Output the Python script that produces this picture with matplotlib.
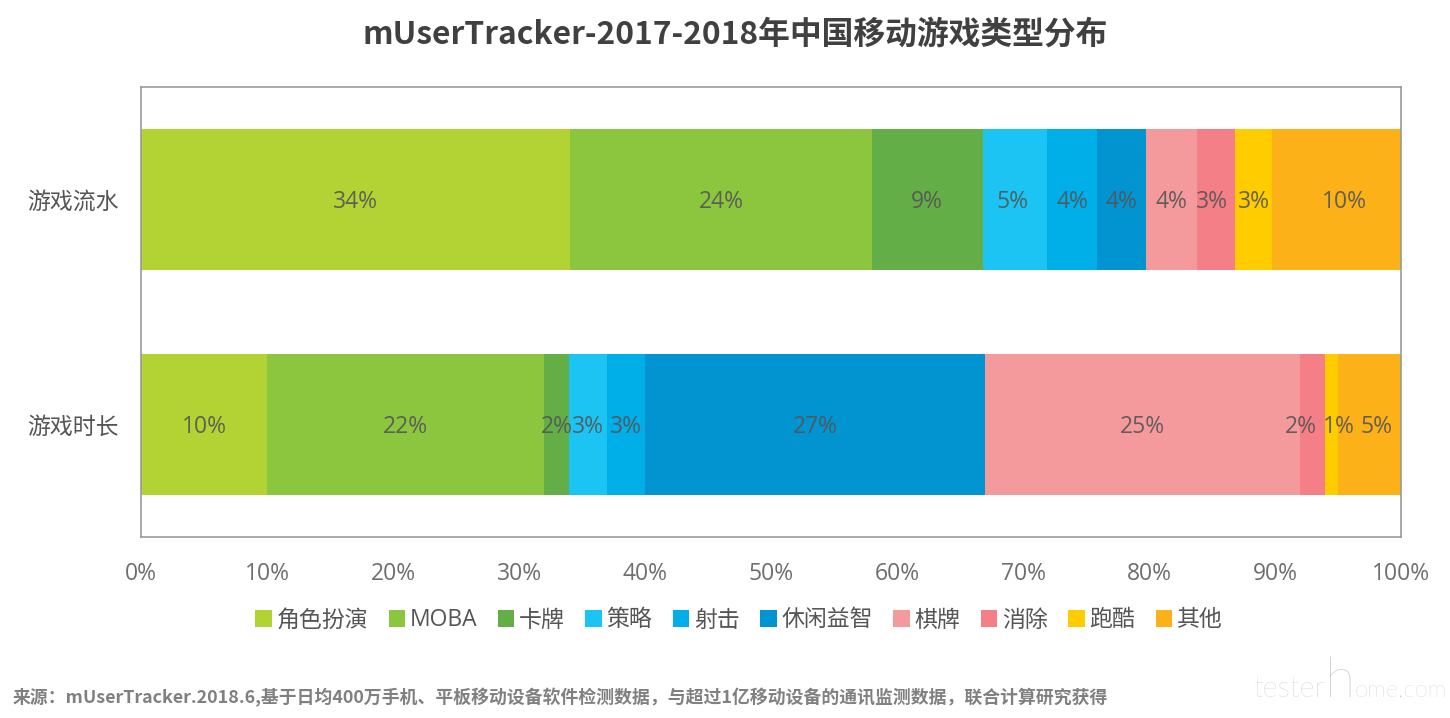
import matplotlib
matplotlib.use("Agg")
import matplotlib.pyplot as plt

plt.rcParams['font.family'] = ['Open Sans', 'Noto Sans CJK SC', 'DejaVu Sans']

# Data
categories = ['游戏流水', '游戏时长']
genres = ['角色扮演', 'MOBA', '卡牌', '策略', '射击', '休闲益智', '棋牌', '消除', '跑酷', '其他']
revenue = [34.05, 23.95, 8.8, 5.1, 4.0, 3.9, 4.0, 3.0, 3.0, 10.2]
playtime = [10.0, 22.0, 2.0, 3.0, 3.0, 27.0, 25.0, 2.0, 1.0, 5.0]
colors = ['#b3d334', '#8cc63f', '#63ae47', '#1cc4f4', '#00aee8', '#0194d0',
          '#f59a9c', '#f57f86', '#ffcc00', '#fbb117']
xticks = list(range(0, 101, 10))

# Labels the original chart moved sideways, (row, genre): pixels
label_nudge = {(1, 7): -12, (1, 8): 7, (1, 9): 7, (0, 9): 8, (0, 7): -4, (0, 3): -2}

fig = plt.figure(figsize=(14.5, 7.18), dpi=100)
ax = fig.add_axes([141 / 1450, 1 - 537 / 718, 1260 / 1450, 450 / 718])

# Stacked bars
left = [0, 0]
for i, genre in enumerate(genres):
    vals = [revenue[i], playtime[i]]
    bars = ax.barh(categories, vals, left=left, height=0.627, color=colors[i], label=genre)
    texts = ax.bar_label(bars, labels=[f'{round(v)}%' for v in vals], label_type='center',
                         fontsize=16.5, color='#555555', alpha=0.9)
    for row, t in enumerate(texts):
        dx = label_nudge.get((row, i), 0) * 0.72
        t.xyann = (dx, t.xyann[1] - 1.5)
    left = [left[0] + vals[0], left[1] + vals[1]]

ax.set_xlim(0, 100)
ax.set_ylim(1.5, -0.5)
ax.set_xticks(xticks)
ax.set_xticklabels([f'{t}%' for t in xticks], fontsize=16.5, color='#6e6e6e')
ax.tick_params(axis='x', length=0, pad=18)
ax.tick_params(axis='y', length=0, pad=16, labelsize=16.5, labelcolor='#555555')
for spine in ax.spines.values():
    spine.set_color('#999999')
    spine.set_linewidth(1.2)

# Title
fig.text(735 / 1450, 1 - 35 / 718, 'mUserTracker-2017-2018年中国移动游戏类型分布',
         ha='center', va='center', fontsize=22.9, fontweight='bold', color='#404040',
         family=['Noto Sans CJK SC', 'DejaVu Sans'])

# Legend
fig.legend(loc='center', bbox_to_anchor=(739 / 1450, 1 - 620.5 / 718), ncol=10, frameon=False,
           fontsize=16.5, labelcolor='#555555', handlelength=0.72, handleheight=0.72,
           handletextpad=0.2, columnspacing=0.9, borderpad=0)

# Source note
fig.text(13 / 1450, 1 - 698 / 718,
         '来源：mUserTracker.2018.6,基于日均400万手机、平板移动设备软件检测数据，与超过1亿移动设备的通讯监测数据，联合计算研究获得',
         ha='left', va='center', fontsize=12.85, fontweight='bold', color='#808080',
         family=['Noto Sans CJK SC', 'DejaVu Sans'])

# Watermark, the h is much taller than the rest in the original
wm = dict(color='#bdbdbd', family='Lato', fontweight='light', va='baseline', ha='left')
fig.text(1253 / 1450, 1 - 697 / 718, 'tester', fontsize=21, **wm)
fig.text(1325 / 1450, 1 - 697 / 718, 'h', fontsize=40, **wm)
fig.text(1354 / 1450, 1 - 697 / 718, 'ome.com', fontsize=17, **wm)

fig.savefig('out.png', dpi=100)
